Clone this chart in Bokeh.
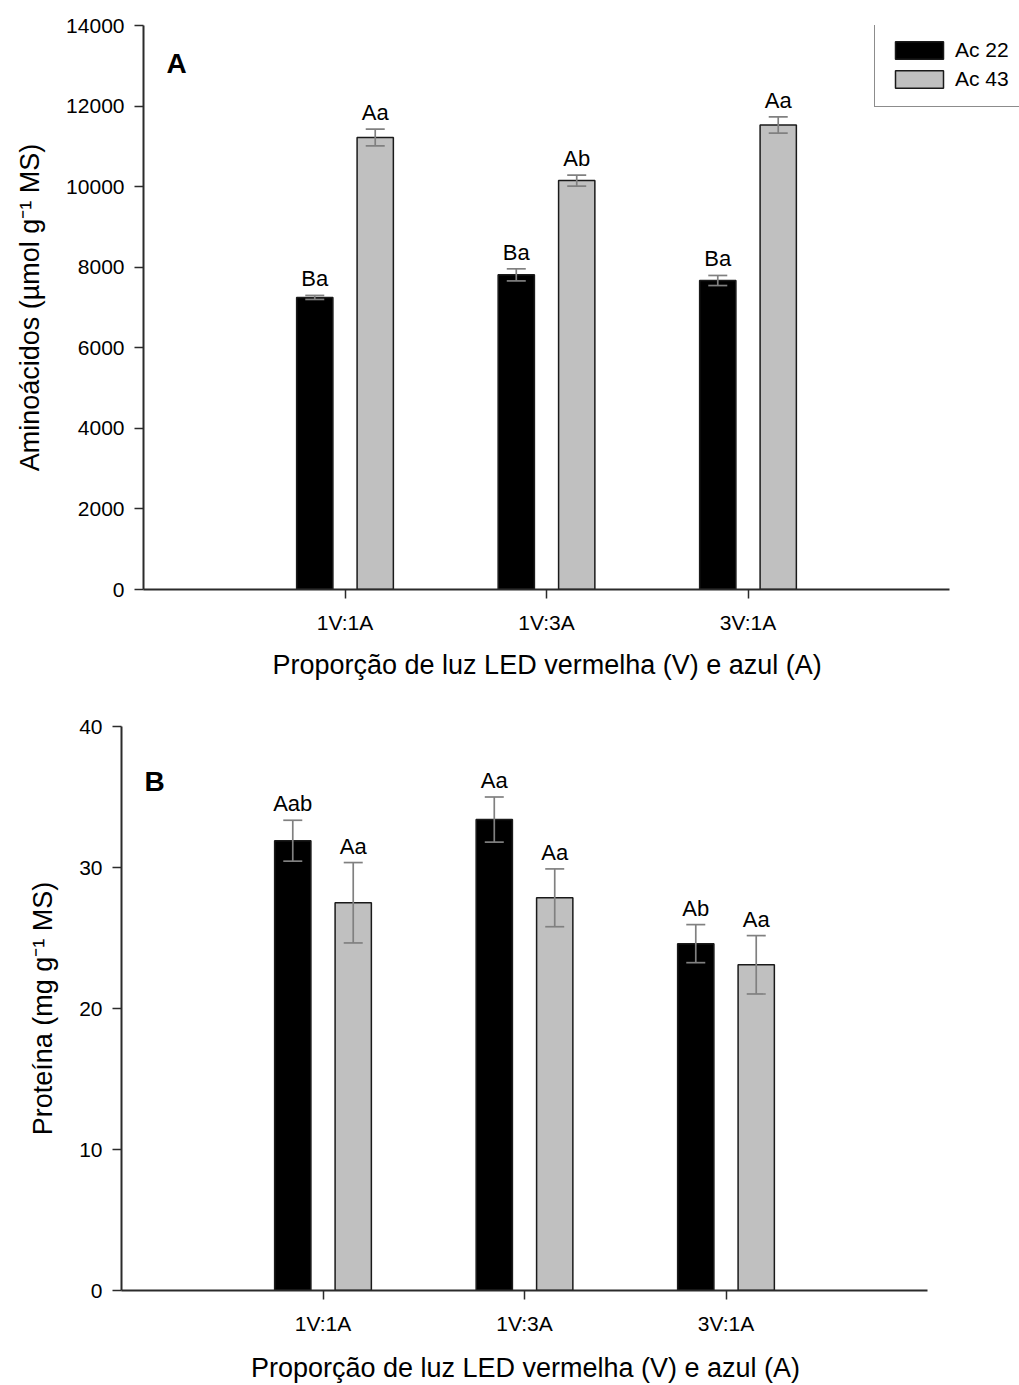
import numpy as np
from bokeh.plotting import figure
from bokeh.models import (ColumnDataSource, FixedTicker, Whisker, TeeHead,
                          Legend, LegendItem, Label, LabelSet, Title)
from bokeh.core.properties import value
from bokeh.embed import file_html
from bokeh.resources import INLINE

# ---- data -------------------------------------------------------------
categories = ["1V:1A", "1V:3A", "3V:1A"]
series_names = ["Ac 22", "Ac 43"]

amino_ac22 = [7250, 7810, 7670]
amino_ac22_err = [50, 150, 125]
amino_ac43 = [11220, 10150, 11530]
amino_ac43_err = [210, 135, 200]
amino_ac22_letters = ["Ba", "Ba", "Ba"]
amino_ac43_letters = ["Aa", "Ab", "Aa"]

prot_ac22 = [31.9, 33.4, 24.6]
prot_ac22_err = [1.45, 1.6, 1.35]
prot_ac43 = [27.5, 27.85, 23.1]
prot_ac43_err = [2.85, 2.05, 2.07]
prot_ac22_letters = ["Aab", "Aa", "Ab"]
prot_ac43_letters = ["Aa", "Aa", "Aa"]

amino_ticks = [0, 2000, 4000, 6000, 8000, 10000, 12000, 14000]
prot_ticks = [0, 10, 20, 30, 40]

X_TITLE = "Proporção de luz LED vermelha (V) e azul (A)"

FONT = "Liberation Sans"
AXIS_COLOR = "#2b2b2b"
ERR_COLOR = "#808080"
FILLS = ["#000000", "#c0c0c0"]
OFFSET = 0.15
BAR_W = 0.18
PX_PER_UNIT = 201.5          # horizontal pixels per category slot
xpos = np.arange(1, len(categories) + 1)
x_end = len(categories) + 1  # axis runs from 0 to here


def make_panel(vals, errs, letters, ticks, ymax, ylabel, panel_tag,
               tag_y, border_left, border_top, border_bottom,
               frame_w, legend=False):
    p = figure(frame_width=frame_w, frame_height=564,
               x_range=(0, frame_w / PX_PER_UNIT), y_range=(0, ymax),
               output_backend="svg", toolbar_location=None,
               min_border_left=border_left,
               min_border_right=max(0, 1019 - frame_w - border_left),
               min_border_top=border_top, min_border_bottom=border_bottom)
    p.outline_line_color = None
    p.grid.grid_line_color = None
    p.background_fill_color = "white"
    p.border_fill_color = "white"

    renderers = []
    for k, (v, e, lab) in enumerate(zip(vals, errs, letters)):
        sign = -1 if k == 0 else 1
        xs = xpos + sign * OFFSET
        v = np.array(v, dtype=float)
        e = np.array(e, dtype=float)
        src = ColumnDataSource(dict(x=xs, top=v, upper=v + e, lower=v - e,
                                    lab=lab))
        r = p.vbar(x="x", top="top", width=BAR_W, bottom=0, source=src,
                   fill_color=FILLS[k], line_color="#1a1a1a", line_width=1.5)
        renderers.append(r)
        w = Whisker(source=src, base="x", upper="upper", lower="lower",
                    dimension="height", line_color=ERR_COLOR, line_width=1.7,
                    level="overlay",
                    upper_head=TeeHead(size=19, line_color=ERR_COLOR, line_width=1.7),
                    lower_head=TeeHead(size=19, line_color=ERR_COLOR, line_width=1.7))
        p.add_layout(w)
        p.add_layout(LabelSet(x="x", y="upper", text="lab", source=src,
                              text_align="center", text_baseline="alphabetic",
                              y_offset=9, text_font=value(FONT),
                              text_font_size=value("22px"),
                              text_color="black"))

    # axes
    p.xaxis.ticker = FixedTicker(ticks=list(xpos))
    p.xaxis.bounds = (0, x_end)
    p.xaxis.major_label_overrides = {int(i): c for i, c in zip(xpos, categories)}
    p.yaxis.ticker = FixedTicker(ticks=ticks)
    for ax in (p.xaxis, p.yaxis):
        ax.axis_line_color = AXIS_COLOR
        ax.axis_line_width = 2
        ax.major_tick_line_color = AXIS_COLOR
        ax.major_tick_line_width = 1.5
        ax.major_tick_in = 0
        ax.major_tick_out = 9
        ax.minor_tick_line_color = None
        ax.major_label_text_font = FONT
        ax.major_label_text_font_size = "21px"
        ax.major_label_text_color = "black"
        ax.axis_label_text_font = FONT
        ax.axis_label_text_font_size = "27px"
        ax.axis_label_text_font_style = "normal"
        ax.axis_label_text_color = "black"
    p.xaxis.major_label_standoff = 12
    p.yaxis.major_label_standoff = 10
    p.yaxis.axis_label = ylabel
    p.yaxis.axis_label_standoff = 18

    if legend:
        # frame is wider than the axis here; title is placed under the axis span
        p.add_layout(Title(text=X_TITLE, align="left", offset=129, standoff=22,
                           text_font=FONT, text_font_size="27px",
                           text_font_style="normal", text_color="black"),
                     "below")
    else:
        p.xaxis.axis_label = X_TITLE
        p.xaxis.axis_label_standoff = 15

    p.add_layout(Label(x=0.114, y=tag_y, text=panel_tag, text_font=FONT,
                       text_font_size="28px", text_font_style="bold",
                       text_baseline="alphabetic", text_color="black"))

    if legend:
        leg = Legend(items=[LegendItem(label=n, renderers=[r])
                            for n, r in zip(series_names, renderers)],
                     location=(731, 482), orientation="vertical",
                     glyph_width=60, glyph_height=22, label_height=26,
                     label_standoff=6, padding=14, spacing=3, margin=0,
                     label_text_font=FONT, label_text_font_size="21px",
                     label_text_color="black",
                     border_line_color="#1a1a1a", border_line_width=1.5,
                     background_fill_alpha=1.0)
        p.add_layout(leg)
    return p


pa = make_panel([amino_ac22, amino_ac43], [amino_ac22_err, amino_ac43_err],
                [amino_ac22_letters, amino_ac43_letters], amino_ticks, 14000,
                "Aminoácidos (µmol g⁻¹ MS)", "A", 13050,
                border_left=143, border_top=25, border_bottom=111,
                frame_w=1019 - 143, legend=True)
pb = make_panel([prot_ac22, prot_ac43], [prot_ac22_err, prot_ac43_err],
                [prot_ac22_letters, prot_ac43_letters], prot_ticks, 40,
                "Proteína (mg g⁻¹ MS)", "B", 36.1,
                border_left=121, border_top=26, border_bottom=95,
                frame_w=808)

open("out.html", "w").write(file_html([pa, pb], INLINE))
